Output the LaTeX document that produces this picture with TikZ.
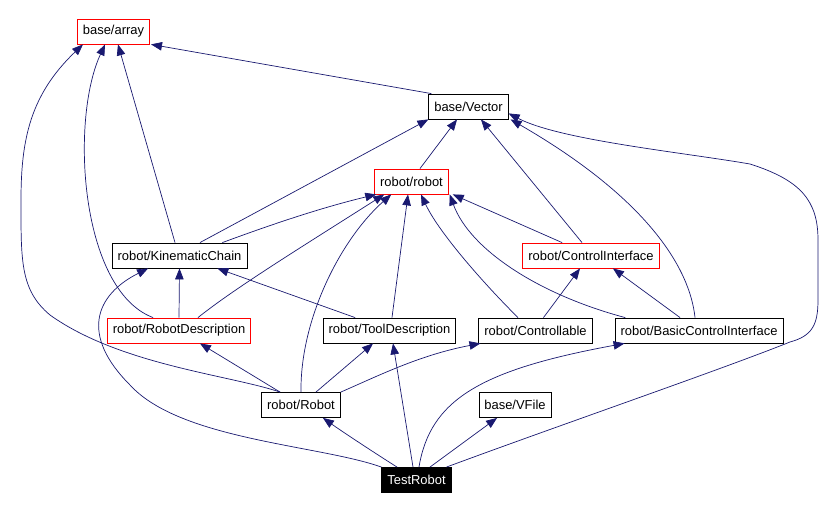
\documentclass[tikz,border=0pt]{standalone}
\usepackage{fontspec}
\setmainfont{Liberation Sans}
\usetikzlibrary{arrows.meta}
\definecolor{edgeblue}{RGB}{25,25,112}
\tikzset{
hdr/.style={
  draw,
  line width=0.8bp,
  inner xsep=5.5bp,
  inner ysep=0pt,
  minimum height=25bp,
  font=\fontsize{13}{15}\selectfont
  },
hdrred/.style={
  hdr,
  draw=red
  },
hdrtop/.style={
  hdr,
  fill=black,
  text=white
  },
dep/.style={->,draw=edgeblue,line width=0.7bp}
}

\begin{document}
\begin{tikzpicture}[x=1bp,y=-1bp,>={Triangle[length=11bp,width=8.5bp]}]
\useasboundingbox (0,0) rectangle (838,510);

\node[hdrred] (array) at (113.5,31.5) {base/array};
\node[hdr] (vector) at (468.5,106.5) {base/Vector};
\node[hdrred] (robotH) at (411.5,181.5) {robot/robot};
\node[hdr] (kinchain) at (179.5,255.5) {robot/KinematicChain};
\node[hdrred] (ctrlif) at (591,255.5) {robot/ControlInterface};
\node[hdrred] (robdesc) at (179,330.5) {robot/RobotDescription};
\node[hdr] (tooldesc) at (389.5,330.5) {robot/ToolDescription};
\node[hdr] (ctrlable) at (535.5,330.5) {robot/Controllable};
\node[hdr] (basicif) at (699,330.5) {robot/BasicControlInterface};
\node[hdr] (robot) at (301,405) {robot/Robot};
\node[hdr] (vfile) at (515,405) {base/VFile};
\node[hdrtop] (test) at (416.5,480) {TestRobot};

% includes of base/array
\draw[dep] ([xshift=3]vector.north west) -- ([xshift=1]array.south east);
\draw[dep] ([xshift=-4.5]kinchain.north) -- ([xshift=4.5]array.south);
\draw[dep] ([xshift=-26]robdesc.north) .. controls (80,290) and (70,120) .. ([xshift=-8.5]array.south);
\draw[dep] ([xshift=-21]robot.north) .. controls (230,375) and (120,365) .. (50,315)
  .. controls (20,290) and (21,260) .. (21,200)
  .. controls (21,140) and (30,95) .. ([xshift=6]array.south west);

% includes of base/Vector
\draw[dep] ([xshift=20.5]kinchain.north) -- (vector.south west);
\draw[dep] ([xshift=8.5]robotH.north) -- ([xshift=-11.5]vector.south);
\draw[dep] ([xshift=-9]ctrlif.north) -- ([xshift=12.5]vector.south);
\draw[dep] ([xshift=-4]basicif.north) .. controls (690,270) and (650,200) .. ([xshift=2]vector.south east);
\draw[dep] ([xshift=30]test.north) .. controls (560,425) and (720,370) .. (790,342)
  .. controls (812,336) and (818,325) .. (818,300) -- (818,240)
  .. controls (818,200) and (800,180) .. (750,164)
  .. controls (680,152) and (560,140) .. ([yshift=6]vector.south east);

% includes of robot/robot
\draw[dep] ([xshift=43]kinchain.north) .. controls (270,225) and (320,208) .. ([xshift=2]robotH.south west);
\draw[dep] ([xshift=19]robdesc.north) .. controls (235,288) and (300,248) .. ([xshift=10]robotH.south west);
\draw[dep] (robot.north) .. controls (300,320) and (340,240) .. ([xshift=17]robotH.south west);
\draw[dep] ([xshift=2.5]tooldesc.north) -- ([xshift=-3.5]robotH.south);
\draw[dep] ([xshift=-17.5]ctrlable.north) .. controls (490,290) and (440,235) .. ([xshift=9.5]robotH.south);
\draw[dep] ([xshift=-74]basicif.north) .. controls (540,295) and (470,250) .. ([xshift=1]robotH.south east);
\draw[dep] ([xshift=-29]ctrlif.north) -- ([xshift=4]robotH.south east);

% includes of the second row
\draw[dep] (robdesc.north) -- (kinchain.south);
\draw[dep] ([xshift=-34.5]tooldesc.north) -- ([xshift=38]kinchain.south);
\draw[dep] (test.north west) .. controls (320,445) and (180,440) .. (130,385)
  .. controls (80,335) and (95,295) .. ([xshift=-31.5]kinchain.south);
\draw[dep] ([xshift=8]ctrlable.north) -- ([xshift=-11]ctrlif.south);
\draw[dep] ([xshift=-19]basicif.north) -- ([xshift=22]ctrlif.south);

% includes of robot/Robot
\draw[dep] ([xshift=-21]robot.north) -- ([xshift=21]robdesc.south);
\draw[dep] ([xshift=15]robot.north) -- ([xshift=-16.5]tooldesc.south);
\draw[dep] (robot.north east) .. controls (380,375) and (420,355) .. ([xshift=2]ctrlable.south west);

% includes of TestRobot
\draw[dep] ([xshift=-19.5]test.north) .. controls (370,450) and (340,430) .. ([xshift=22]robot.south);
\draw[dep] ([xshift=-3.5]test.north) -- ([xshift=3.5]tooldesc.south);
\draw[dep] ([xshift=2.5]test.north) .. controls (430,400) and (480,370) .. ([xshift=10]basicif.south west);
\draw[dep] ([xshift=13.5]test.north) -- ([xshift=-18]vfile.south);
\end{tikzpicture}
\end{document}
